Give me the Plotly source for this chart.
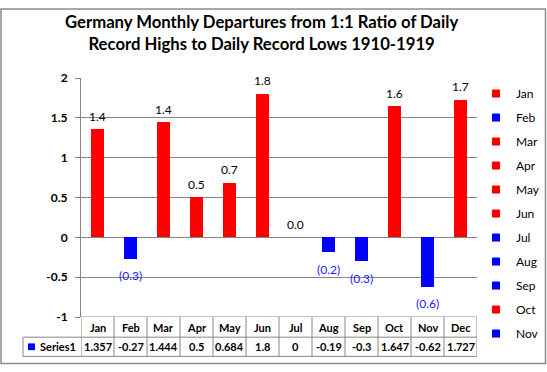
import plotly.graph_objects as go

# ---- data ----
months = ["Jan", "Feb", "Mar", "Apr", "May", "Jun", "Jul", "Aug", "Sep", "Oct", "Nov", "Dec"]
values = [1.357, -0.27, 1.444, 0.5, 0.684, 1.8, 0, -0.19, -0.3, 1.647, -0.62, 1.727]
table_values = ["1.357", "-0.27", "1.444", "0.5", "0.684", "1.8", "0", "-0.19", "-0.3", "1.647", "-0.62", "1.727"]
legend_months = months[:11]
y_ticks = [-1, -0.5, 0, 0.5, 1, 1.5, 2]
y_tick_labels = ["-1", "-0.5", "0", "0.5", "1", "1.5", "2"]
title_text = "Germany Monthly Departures from 1:1 Ratio of Daily<br>Record Highs to Daily Record Lows 1910-1919"
series_name = "Series1"

RED = "#FF0000"
BLUE = "#0000FF"
GRID = "#868686"
FONT = "Lato, 'Open Sans', sans-serif"

W, H = 547, 372


def px(x):
    return x / W


def py(y):
    return 1 - y / H


colors = [RED if v > 0 else BLUE for v in values]
labels = [f"{v:.1f}" if v >= 0 else f"({abs(v):.1f})" for v in values]

fig = go.Figure()
fig.add_trace(go.Bar(x=months, y=values, marker=dict(color=colors, line=dict(width=0)),
                     width=0.42, showlegend=False, hoverinfo="x+y"))

for m, v in zip(legend_months, values[:11]):
    c = RED if v > 0 else BLUE
    fig.add_trace(go.Scatter(x=[None], y=[None], mode="markers", name=m, legendgroup=m,
                             marker=dict(symbol="square", size=8, color=c)))

annotations = []
# data labels
for m, v, lab in zip(months, values, labels):
    annotations.append(dict(x=m, y=v, xref="x", yref="y", text=lab, showarrow=False,
                            xanchor="center", yanchor="middle",
                            yshift=13 if v >= 0 else -17,
                            font=dict(family=FONT, size=12, color="#000000" if v >= 0 else "#2020FF")))
# title
annotations.append(dict(x=px(261), y=py(26), xref="paper", yref="paper", text=title_text,
                        showarrow=False, xanchor="center", yanchor="middle",
                        font=dict(family=FONT, size=16.7, color="#000000", weight="bold")))
# table header + values
for m, tv in zip(months, table_values):
    annotations.append(dict(x=m, y=py(333), xref="x", yref="paper", text=m, showarrow=False,
                            yanchor="middle", font=dict(family=FONT, size=11, color="#000000", weight="bold")))
    annotations.append(dict(x=m, y=py(353), xref="x", yref="paper", text=tv, showarrow=False,
                            yanchor="middle", font=dict(family=FONT, size=11, color="#000000", weight="bold")))
annotations.append(dict(x=px(38), y=py(353), xref="paper", yref="paper", text=series_name,
                        showarrow=False, xanchor="left", yanchor="middle",
                        font=dict(family=FONT, size=11, color="#000000", weight="bold")))

shapes = []
# outer frame
shapes.append(dict(type="rect", xref="paper", yref="paper", x0=px(1), x1=px(545.5), y0=py(370.5), y1=py(1),
                   line=dict(color="#8C8C8C", width=1.5)))
# table lines
shapes.append(dict(type="line", xref="x", yref="y", x0=-0.5, x1=11.5, y0=-1, y1=-1, line=dict(color=GRID, width=1)))
for yy in (343, 363):
    shapes.append(dict(type="line", xref="paper", yref="paper", x0=px(23), x1=px(477), y0=py(yy), y1=py(yy),
                       line=dict(color=GRID, width=1)))
shapes.append(dict(type="line", xref="paper", yref="paper", x0=px(23), x1=px(23), y0=py(343), y1=py(363),
                   line=dict(color=GRID, width=1)))
for k in range(13):
    shapes.append(dict(type="line", xref="x", yref="paper", x0=k - 0.5, x1=k - 0.5, y0=py(322), y1=py(363),
                       line=dict(color=GRID, width=1)))
# series key in table
shapes.append(dict(type="rect", xref="paper", yref="paper", x0=px(28), x1=px(35), y0=py(356.5), y1=py(349.5),
                   fillcolor=BLUE, line=dict(width=0)))

fig.update_layout(
    width=W, height=H,
    margin=dict(l=0, r=0, t=0, b=0),
    paper_bgcolor="white", plot_bgcolor="white",
    font=dict(family=FONT, size=12, color="#000000"),
    bargap=0,
    xaxis=dict(domain=[px(81), px(477)], type="category", range=[-0.5, 11.5],
               showticklabels=False, showgrid=False, zeroline=False, showline=False, ticks=""),
    yaxis=dict(domain=[py(322), py(73)], range=[-1, 2], tickvals=y_ticks, ticktext=y_tick_labels,
               showgrid=True, gridcolor=GRID, gridwidth=1, zeroline=True, zerolinecolor=GRID, zerolinewidth=1,
               showline=True, linecolor=GRID, linewidth=1, ticks="outside", ticklen=5, tickcolor=GRID,
               ticklabelstandoff=5,
               tickfont=dict(family=FONT, size=12, color="#000000", weight="bold")),
    legend=dict(x=px(476), y=py(74), xanchor="left", yanchor="top", bgcolor="rgba(0,0,0,0)",
                font=dict(family=FONT, size=12, color="#000000"), tracegroupgap=5, itemclick=False),
    annotations=annotations,
    shapes=shapes,
)

fig.write_html("out.html", config={"displayModeBar": False},
               post_script="document.body.style.margin='0';")
